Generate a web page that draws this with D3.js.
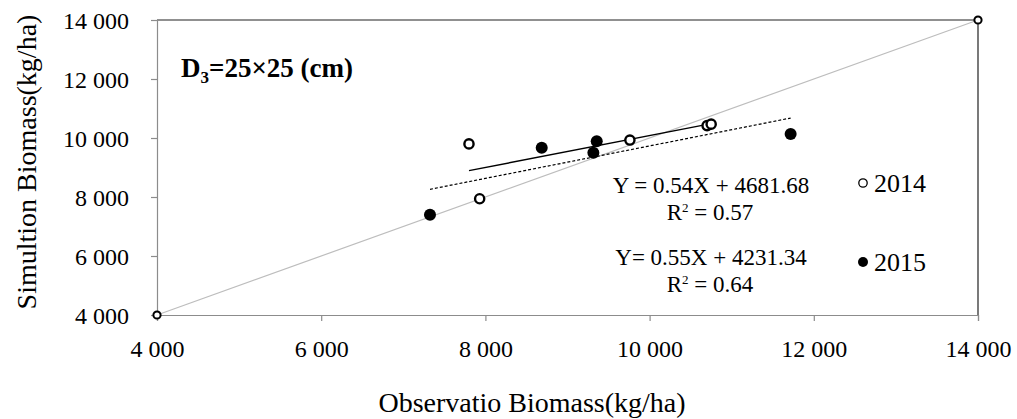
<!DOCTYPE html>
<html>
<head>
<meta charset="utf-8">
<script src="https://cdn.jsdelivr.net/npm/d3@7"></script>
<style>
  body { margin: 0; background: #fff; }
  svg { display: block; }
  svg text { font-family: "Liberation Serif", serif; }
</style>
</head>
<body>
<svg id="chart" width="1017" height="419"></svg>
<script>
// Observed vs simulated biomass (kg/ha), plant spacing 25×25 cm
const obs2014 = [7800, 7930, 9760, 10700, 10750];
const sim2014 = [9800, 7940, 9930, 10420, 10470];
const obs2015 = [7325, 8686, 9315, 9356, 11718];
const sim2015 = [7400, 9671, 9502, 9888, 10136];

// Linear fits (slope, intercept, R²) per year
const fitYears = ["2014", "2015"];
const fitSlope = [0.54, 0.55];
const fitIntercept = [4681.68, 4231.34];
const fitR2 = ["0.57", "0.64"];
const fitLabels = ["Y = 0.54X + 4681.68", "Y= 0.55X + 4231.34"];

// 1:1 reference line
const oneToOne = [4000, 14000];

const xTicks = [4000, 6000, 8000, 10000, 12000, 14000];
const yTicks = [4000, 6000, 8000, 10000, 12000, 14000];

const xTitle = "Observatio Biomass(kg/ha)";
const yTitle = "Simultion Biomass(kg/ha)";

const FONT = "Liberation Serif";
const svg = d3.select("#chart").attr("font-family", FONT);
const m = { left: 157, right: 978, top: 20, bottom: 315 };

const x = d3.scaleLinear().domain([4000, 14000]).range([m.left, m.right]);
const y = d3.scaleLinear().domain([4000, 14000]).range([m.bottom, m.top]);

const fmt = d3.formatLocale({ decimal: ".", thousands: " ", grouping: [3], currency: ["", ""] }).format(",");

// Frame: top and right edges dark
svg.append("path")
  .attr("d", `M${m.left},${m.top}H${m.right}V${m.bottom}`)
  .attr("fill", "none").attr("stroke", "#222").attr("stroke-width", 1.2);

// Axes
const xAxis = svg.append("g").attr("transform", `translate(0,${m.bottom})`)
  .call(d3.axisBottom(x).tickValues(xTicks).tickSize(6).tickPadding(19).tickFormat(fmt));
const yAxis = svg.append("g").attr("transform", `translate(${m.left},0)`)
  .call(d3.axisLeft(y).tickValues(yTicks).tickSize(6).tickPadding(22).tickFormat(fmt));

[xAxis, yAxis].forEach(g => {
  g.attr("font-family", FONT).attr("font-size", 24);
  g.select(".domain").attr("stroke", "#8c8c8c").attr("stroke-width", 1.2);
  g.selectAll(".tick line").attr("stroke", "#8c8c8c").attr("stroke-width", 1.2);
  g.selectAll(".tick text").attr("fill", "#000");
});
xAxis.selectAll(".tick text").attr("dy", "0.71em");
yAxis.selectAll(".tick text").attr("dy", "0.34em");

// 1:1 line with end markers
svg.append("line")
  .attr("x1", x(oneToOne[0])).attr("y1", y(oneToOne[0]))
  .attr("x2", x(oneToOne[1])).attr("y2", y(oneToOne[1]))
  .attr("stroke", "#bdbdbd").attr("stroke-width", 1.2);
svg.selectAll(".diagEnd").data(oneToOne).join("circle")
  .attr("cx", d => x(d)).attr("cy", d => y(d)).attr("r", 3.6)
  .attr("fill", "#fff").attr("stroke", "#000").attr("stroke-width", 2);

// Fit lines drawn over each year's observed range
const ranges = [d3.extent(obs2014), d3.extent(obs2015)];
const dashes = [null, "3,2"];
const widths = [1.4, 1.2];
fitYears.forEach((yr, i) => {
  const [a, b] = ranges[i];
  svg.append("line")
    .attr("x1", x(a)).attr("y1", y(fitSlope[i] * a + fitIntercept[i]))
    .attr("x2", x(b)).attr("y2", y(fitSlope[i] * b + fitIntercept[i]))
    .attr("stroke", "#000").attr("stroke-width", widths[i])
    .attr("stroke-dasharray", dashes[i]);
});

// Points
svg.selectAll(".p2015").data(obs2015.map((d, i) => [d, sim2015[i]])).join("circle")
  .attr("cx", d => x(d[0])).attr("cy", d => y(d[1])).attr("r", 6)
  .attr("fill", "#000");
svg.selectAll(".p2014").data(obs2014.map((d, i) => [d, sim2014[i]])).join("circle")
  .attr("cx", d => x(d[0])).attr("cy", d => y(d[1])).attr("r", 4.6)
  .attr("fill", "#fff").attr("stroke", "#000").attr("stroke-width", 2.4);

// Equation labels
const eqY = [193, 265];
fitYears.forEach((yr, i) => {
  svg.append("text").attr("x", 711).attr("y", eqY[i]).attr("text-anchor", "middle")
    .attr("font-size", 23).text(fitLabels[i]);
  const r = svg.append("text").attr("x", 710).attr("y", eqY[i] + 27).attr("text-anchor", "middle")
    .attr("font-size", 23);
  r.append("tspan").text("R");
  r.append("tspan").attr("dy", -8).attr("font-size", 13).text("2");
  r.append("tspan").attr("dy", 8).text(" = " + fitR2[i]);
});

// Legend
const legY = [183, 262];
fitYears.forEach((yr, i) => {
  svg.append("circle").attr("cx", 863).attr("cy", legY[i]).attr("r", i === 0 ? 4.2 : 5)
    .attr("fill", i === 0 ? "#fff" : "#000").attr("stroke", "#000").attr("stroke-width", i === 0 ? 1.3 : 0);
  svg.append("text").attr("x", 874).attr("y", legY[i] + 9)
    .attr("font-size", 26).text(yr);
});

// Planting density label
const lab = svg.append("text").attr("x", 181).attr("y", 77)
  .attr("font-size", 27).attr("font-weight", "bold");
lab.append("tspan").text("D");
lab.append("tspan").attr("dy", 6).attr("font-size", 17).text("3");
lab.append("tspan").attr("dy", -6).text("=25×25 (cm)");

// Axis titles
svg.append("text").attr("x", 532).attr("y", 412)
  .attr("text-anchor", "middle").attr("font-size", 28).text(xTitle);
svg.append("text").attr("transform", "translate(36,162) rotate(-90)")
  .attr("text-anchor", "middle").attr("font-size", 28).text(yTitle);
</script>
</body>
</html>
